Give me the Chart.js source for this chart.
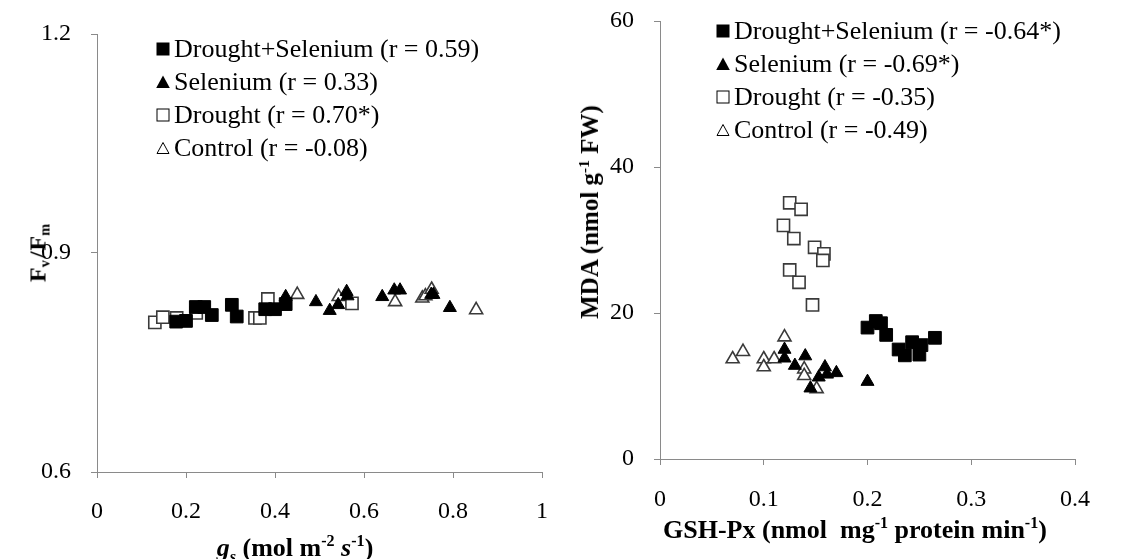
<!DOCTYPE html>
<html><head><meta charset="utf-8">
<script src="https://cdn.jsdelivr.net/npm/chart.js@4.4.0/dist/chart.umd.min.js"></script>
<style>
body{margin:0;background:#fff;width:1126px;height:559px;overflow:hidden;position:relative;font-family:'Liberation Serif','Times New Roman',serif;color:#000;}
canvas{position:absolute;top:0;}
#cL{left:0px}
#cR{left:600px}
.leg{position:absolute;font-size:26px;}
.row{height:33px;display:flex;align-items:center;white-space:nowrap;}
.row svg{margin-right:4px;flex:none;}
.title{position:absolute;font-weight:bold;font-size:26px;white-space:nowrap;transform:translate(-50%,-50%);}
.rot{transform:translate(-50%,-50%) rotate(-90deg);}
sup,sub{font-size:0.62em;line-height:0;}
.fv{font-size:24px;}
.fv sub{font-size:0.6em;vertical-align:-0.3em;}
.sl{margin:0 1px 0 2px;}
</style></head>
<body>
<canvas id="cL" width="600" height="559"></canvas>
<canvas id="cR" width="526" height="559"></canvas>

<div class="leg" style="left:156px;top:32.5px">
  <div class="row"><svg width="14" height="14"><rect x="0.5" y="0.5" width="13" height="13" fill="#000"/></svg><span>Drought+Selenium (r = 0.59)</span></div>
  <div class="row"><svg width="14" height="14"><polygon points="7,0.5 13.8,13 0.2,13" fill="#000"/></svg><span>Selenium (r = 0.33)</span></div>
  <div class="row"><svg width="14" height="14"><rect x="1" y="1" width="12" height="12" fill="#fff" stroke="#000" stroke-width="1"/></svg><span>Drought (r = 0.70*)</span></div>
  <div class="row"><svg width="14" height="14"><polygon points="7,1.5 13,12.5 1,12.5" fill="#fff" stroke="#000" stroke-width="1"/></svg><span>Control (r = -0.08)</span></div>
</div>
<div class="leg" style="left:716px;top:14.5px">
  <div class="row"><svg width="14" height="14"><rect x="0.5" y="0.5" width="13" height="13" fill="#000"/></svg><span>Drought+Selenium (r = -0.64*)</span></div>
  <div class="row"><svg width="14" height="14"><polygon points="7,0.5 13.8,13 0.2,13" fill="#000"/></svg><span>Selenium (r = -0.69*)</span></div>
  <div class="row"><svg width="14" height="14"><rect x="1" y="1" width="12" height="12" fill="#fff" stroke="#000" stroke-width="1"/></svg><span>Drought (r = -0.35)</span></div>
  <div class="row"><svg width="14" height="14"><polygon points="7,1.5 13,12.5 1,12.5" fill="#fff" stroke="#000" stroke-width="1"/></svg><span>Control (r = -0.49)</span></div>
</div>

<div class="title rot fv" style="left:38px;top:253px">F<sub>v</sub><span class="sl">/</span>F<sub>m</sub></div>
<div class="title" style="left:295px;top:548px"><i>g<sub>s</sub></i> (mol m<sup>-2</sup> <i>s</i><sup>-1</sup>)</div>
<div class="title rot" style="left:590px;top:212px;font-size:25px">MDA (nmol g<sup>-1</sup> FW)</div>
<div class="title" style="left:855px;top:530px">GSH-Px (nmol&nbsp; mg<sup>-1</sup> protein min<sup>-1</sup>)</div>

<script>
// ---- Left panel: Fv/Fm vs gs ----
const leftDroughtSeleniumX = [0.178,0.200,0.222,0.241,0.258,0.303,0.314,0.378,0.400,0.424];
const leftDroughtSeleniumY = [0.806,0.807,0.826,0.826,0.815,0.829,0.813,0.823,0.823,0.830];
const leftSeleniumX = [0.424,0.492,0.523,0.542,0.561,0.563,0.641,0.668,0.681,0.751,0.756,0.793];
const leftSeleniumY = [0.840,0.833,0.821,0.829,0.847,0.841,0.840,0.849,0.849,0.843,0.843,0.825];
const leftDroughtX = [0.130,0.148,0.179,0.223,0.355,0.366,0.384,0.573];
const leftDroughtY = [0.805,0.812,0.811,0.818,0.811,0.811,0.837,0.831];
const leftControlX = [0.450,0.543,0.670,0.731,0.738,0.752,0.852];
const leftControlY = [0.843,0.840,0.833,0.838,0.841,0.850,0.822];
const leftXTickValues = [0,0.2,0.4,0.6,0.8,1];
const leftXTickLabels = ['0','0.2','0.4','0.6','0.8','1'];
const leftYTickValues = [0.6,0.9,1.2];
const leftYTickLabels = ['0.6','0.9','1.2'];

// ---- Right panel: MDA vs GSH-Px ----
const rightDroughtSeleniumX = [0.200,0.208,0.213,0.218,0.230,0.236,0.243,0.250,0.252,0.265];
const rightDroughtSeleniumY = [18.0,18.9,18.6,17.0,15.0,14.2,16.0,14.3,15.6,16.6];
const rightSeleniumX = [0.120,0.120,0.130,0.140,0.145,0.153,0.159,0.161,0.170,0.200];
const rightSeleniumY = [15.0,13.8,12.8,14.1,9.7,11.2,12.6,11.6,11.8,10.6];
const rightDroughtX = [0.125,0.136,0.119,0.129,0.149,0.158,0.157,0.125,0.134,0.147];
const rightDroughtY = [35.1,34.2,32.0,30.2,29.0,28.1,27.2,25.9,24.2,21.1];
const rightControlX = [0.070,0.080,0.100,0.100,0.110,0.120,0.139,0.139,0.151];
const rightControlY = [13.7,14.7,13.7,12.6,13.7,16.7,12.3,11.4,9.6];
const rightXTickValues = [0,0.1,0.2,0.3,0.4];
const rightXTickLabels = ['0','0.1','0.2','0.3','0.4'];
const rightYTickValues = [0,20,40,60];
const rightYTickLabels = ['0','20','40','60'];

const seriesNames = ['Drought+Selenium','Selenium','Drought','Control'];

function pts(xs, ys){ return xs.map((x,i)=>({x:x, y:ys[i]})); }

function makeDatasets(ds, se, dr, co){
  return [
    {label:seriesNames[0], data:ds, pointStyle:'rect', pointRadius:9, backgroundColor:'#000', borderColor:'#000', borderWidth:1},
    {label:seriesNames[1], data:se, pointStyle:'triangle', pointRadius:7.5, backgroundColor:'#000', borderColor:'#000', borderWidth:1},
    {label:seriesNames[2], data:dr, pointStyle:'rect', pointRadius:8.6, backgroundColor:'#fff', borderColor:'#3a3a3a', borderWidth:1.6},
    {label:seriesNames[3], data:co, pointStyle:'triangle', pointRadius:7.5, backgroundColor:'#fff', borderColor:'#3a3a3a', borderWidth:1.6}
  ];
}

const axisColor = '#8a8a8a';
const tickFont = {family:"'Liberation Serif','Times New Roman',serif", size:24};

function axis(min, max, values, labels, isY, fitSize, pad){
  return {
    type:'linear', min:min, max:max,
    afterBuildTicks: s => { s.ticks = values.map(v=>({value:v})); },
    afterFit: s => {
      if(isY){ s.width = fitSize; s.paddingTop = 0; s.paddingBottom = 0; }
      else { s.height = fitSize; s.paddingLeft = 0; s.paddingRight = 0; }
    },
    ticks:{ color:'#000', font:tickFont, padding:pad, autoSkip:false, maxRotation:0,
      callback:(v,i)=>labels[i] },
    grid:{ display:true, drawOnChartArea:false, drawTicks:true, tickLength:6, color:axisColor, lineWidth:1 },
    border:{ display:true, color:axisColor, width:1 },
    title:{ display:false }
  };
}

function makeChart(id, datasets, xs, ys, padding){
  return new Chart(document.getElementById(id), {
    type:'scatter',
    data:{ datasets:datasets },
    options:{
      responsive:false, animation:false, events:[],
      layout:{ padding:padding },
      plugins:{ legend:{display:false}, tooltip:{enabled:false}, title:{display:false} },
      scales:{ x:xs, y:ys }
    }
  });
}

makeChart('cL',
  makeDatasets(pts(leftDroughtSeleniumX,leftDroughtSeleniumY), pts(leftSeleniumX,leftSeleniumY),
               pts(leftDroughtX,leftDroughtY), pts(leftControlX,leftControlY)),
  axis(0,1,leftXTickValues,leftXTickLabels,false,87,19),
  axis(0.6,1.2,leftYTickValues,leftYTickLabels,true,97,20),
  {top:34, right:58, left:0, bottom:0});

makeChart('cR',
  makeDatasets(pts(rightDroughtSeleniumX,rightDroughtSeleniumY), pts(rightSeleniumX,rightSeleniumY),
               pts(rightDroughtX,rightDroughtY), pts(rightControlX,rightControlY)),
  axis(0,0.4,rightXTickValues,rightXTickLabels,false,100,20),
  axis(0,60,rightYTickValues,rightYTickLabels,true,60,20),
  {top:21, right:51, left:0, bottom:0});
</script>
</body></html>
